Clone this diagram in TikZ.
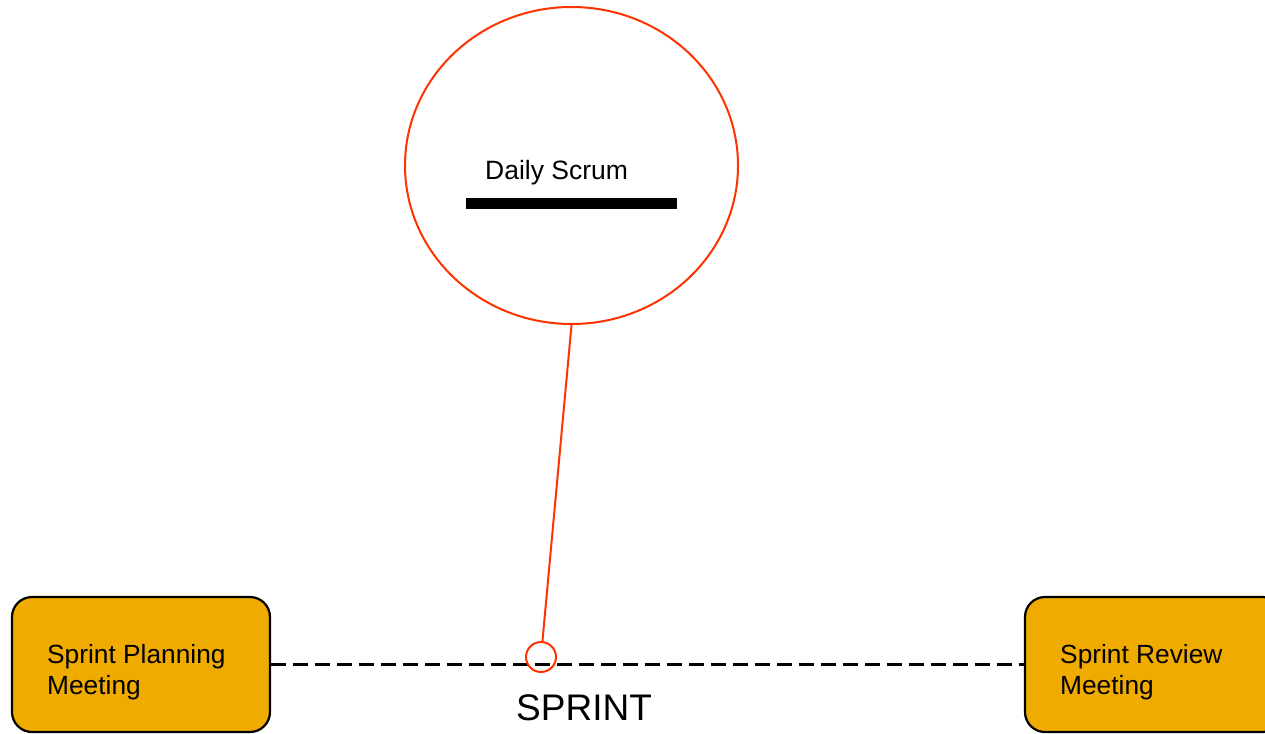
\documentclass[tikz,border=0pt]{standalone}
\usepackage{fontspec}
\setmainfont{Liberation Sans}
\usetikzlibrary{shapes.geometric}
\definecolor{meetfill}{RGB}{240,171,0}
\definecolor{scrumred}{RGB}{255,51,0}
\begin{document}
\begin{tikzpicture}[x=1pt,y=-1pt,
  meetbox/.style={draw=black, line width=2.2pt, fill=meetfill, rounded corners=20pt,
    minimum width=258pt, minimum height=135pt, inner sep=0pt},
  meettext/.style={anchor=base west, inner sep=0pt, align=left,
    font=\fontsize{26.3}{31}\selectfont},
  timeline/.style={dash pattern=on 15pt off 7pt, line width=2.2pt},
  scrumline/.style={draw=scrumred, line width=2pt}]
\useasboundingbox (0,0) rectangle (1265,733);
% sprint meetings (text anchored at the baseline of its last line)
\node[meetbox] (plan) at (141,664.5) {};
\node[meetbox] (review) at (1154,664.5) {};
\node[meettext] (plantext) at (47,694) {Sprint Planning\\Meeting};
\node[meettext] (reviewtext) at (1060,694) {Sprint Review\\Meeting};
\draw[timeline] (plan.east) -- (review.west);
% daily scrum marker on the sprint timeline
\node[circle, scrumline, minimum size=30pt, inner sep=0pt] (mark) at (541,657) {};
\node[anchor=base west, inner sep=0pt, font=\fontsize{37}{44}\selectfont] (sprint) at (516,720) {SPRINT};
% daily scrum bubble
\node[ellipse, scrumline, fill=white, minimum width=333pt, minimum height=317pt, inner sep=0pt] (daily) at (571.5,165.5) {};
\node[anchor=base west, inner sep=0pt, font=\fontsize{26.5}{31}\selectfont] (dailytext) at (485,179) {Daily Scrum};
\node[fill=black, inner sep=0pt, minimum width=211pt, minimum height=11pt] (bar) at (571.5,203.5) {};
\draw[scrumline] (daily.south) -- (mark);
\end{tikzpicture}
\end{document}
